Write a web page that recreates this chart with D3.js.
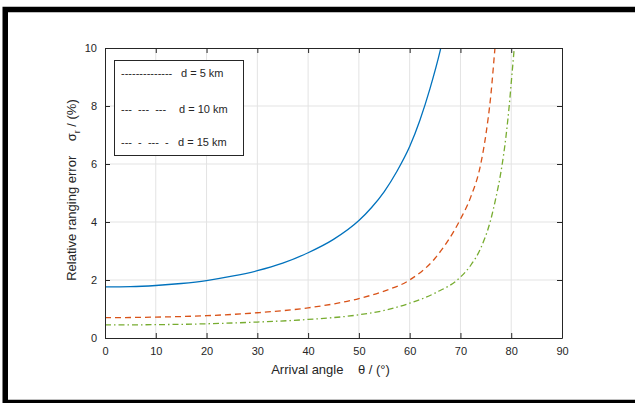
<!DOCTYPE html>
<html>
<head>
<meta charset="utf-8">
<script src="https://cdn.jsdelivr.net/npm/d3@7"></script>
<style>
  body { margin: 0; background: #fff; }
  svg text { font-family: "Liberation Sans", Arial, sans-serif; fill: #262626; }
</style>
</head>
<body>
<svg width="635" height="403"></svg>
<script>
// arrival angle (deg) and relative ranging error (%)
var thetaD5 = [0, 5, 10, 15, 20, 25, 30, 35, 40, 45, 50, 52.5, 55, 57.5, 60, 62, 64, 66, 66.4];
var errD5   = [1.76, 1.77, 1.81, 1.88, 1.98, 2.13, 2.32, 2.58, 2.94, 3.4, 4.05, 4.5, 5.05, 5.75, 6.6, 7.5, 8.6, 9.9, 10.2];

var thetaD10 = [0, 10, 20, 30, 40, 50, 55, 60, 65, 70, 72, 74, 75, 76, 76.8, 77.2];
var errD10   = [0.70, 0.72, 0.77, 0.87, 1.04, 1.36, 1.62, 2.0, 2.75, 4.1, 4.85, 6.0, 7.0, 8.4, 10.0, 10.8];

var thetaD15 = [0, 10, 20, 30, 40, 50, 55, 60, 65, 70, 72, 74, 76, 77, 78, 79, 79.6, 80.1, 80.6, 80.9];
var errD15   = [0.45, 0.46, 0.49, 0.55, 0.64, 0.80, 0.95, 1.2, 1.55, 2.1, 2.5, 3.1, 4.1, 4.85, 5.75, 7.0, 8.0, 9.0, 10.0, 10.6];

var xTicks = [0, 10, 20, 30, 40, 50, 60, 70, 80, 90];
var yTicks = [0, 2, 4, 6, 8, 10];
var legendDashes = ["--------------", "---  ---  ---", "---  -  ---  -"];
var legendLabels = ["d = 5 km", "d = 10 km", "d = 15 km"];

var svg = d3.select("svg");

// outer frame
svg.append("rect").attr("x", 5.25).attr("y", 9.5).attr("width", 700).attr("height", 393)
  .attr("fill", "none").attr("stroke", "#000").attr("stroke-width", 5.5);

var L = 105, R = 562, T = 48, B = 338;
var x = d3.scaleLinear().domain([0, 90]).range([L, R]);
var y = d3.scaleLinear().domain([0, 10]).range([B, T]);

// grid
svg.append("g").selectAll("line").data(xTicks.slice(1, -1)).enter().append("line")
  .attr("x1", function(d){ return x(d); }).attr("x2", function(d){ return x(d); })
  .attr("y1", T).attr("y2", B).attr("stroke", "#e3e3e3").attr("stroke-width", 1);
svg.append("g").selectAll("line").data(yTicks.slice(1, -1)).enter().append("line")
  .attr("y1", function(d){ return y(d); }).attr("y2", function(d){ return y(d); })
  .attr("x1", L).attr("x2", R).attr("stroke", "#e3e3e3").attr("stroke-width", 1);

// curves
svg.append("clipPath").attr("id", "clip").append("rect")
  .attr("x", L).attr("y", T).attr("width", R - L).attr("height", B - T);

var line = d3.line().x(function(d){ return x(d[0]); }).y(function(d){ return y(d[1]); })
  .curve(d3.curveMonotoneX);

var series = [
  { xs: thetaD5, ys: errD5, color: "#0072BD", dash: null },
  { xs: thetaD10, ys: errD10, color: "#D95319", dash: "6,4" },
  { xs: thetaD15, ys: errD15, color: "#77AC30", dash: "6,3,1.5,3" }
];
series.forEach(function(s){
  svg.append("path").datum(d3.zip(s.xs, s.ys))
    .attr("clip-path", "url(#clip)")
    .attr("d", line).attr("fill", "none")
    .attr("stroke", s.color).attr("stroke-width", 1.3)
    .attr("stroke-dasharray", s.dash);
});

// axes (MATLAB style: inward ticks, full box)
svg.append("g").attr("transform", "translate(0," + B + ")")
  .call(d3.axisBottom(x).tickValues(xTicks).tickSizeInner(-5).tickSizeOuter(0).tickPadding(9));
svg.append("g").attr("transform", "translate(0," + T + ")")
  .call(d3.axisTop(x).tickValues(xTicks).tickSizeInner(-5).tickSizeOuter(0).tickFormat(""));
svg.append("g").attr("transform", "translate(" + L + ",0)")
  .call(d3.axisLeft(y).tickValues(yTicks).tickSizeInner(-5).tickSizeOuter(0).tickPadding(8));
svg.append("g").attr("transform", "translate(" + R + ",0)")
  .call(d3.axisRight(y).tickValues(yTicks).tickSizeInner(-5).tickSizeOuter(0).tickFormat(""));

svg.selectAll(".domain, .tick line").attr("stroke", "#262626").attr("stroke-width", 1);
svg.selectAll(".tick text").attr("font-size", 11).attr("fill", "#262626")
  .attr("font-family", "'Liberation Sans', Arial, sans-serif");

// axis labels
svg.append("text").attr("x", (L + R) / 2 - 3).attr("y", 374).attr("text-anchor", "middle")
  .attr("font-size", 13).style("white-space", "pre")
  .text("Arrival angle    \u03b8 / (\u00b0)");

var yl = svg.append("text").attr("transform", "translate(76," + ((T + B) / 2 - 3) + ") rotate(-90)")
  .attr("text-anchor", "middle").attr("font-size", 13).style("white-space", "pre");
yl.append("tspan").text("Relative ranging error    \u03c3");
yl.append("tspan").attr("font-size", 9).attr("dy", 4).text("r");
yl.append("tspan").attr("dy", -4).text(" / (%)");

// legend box with text samples
svg.append("rect").attr("x", 114.5).attr("y", 60.5).attr("width", 129).attr("height", 95)
  .attr("fill", "#fff").attr("stroke", "#262626").attr("stroke-width", 1);
var rowsY = [77, 113, 146];
var labelX = [181, 179, 178];
legendDashes.forEach(function(s, i){
  svg.append("text").attr("x", 121).attr("y", rowsY[i]).attr("font-size", 11)
    .style("white-space", "pre").text(s);
  svg.append("text").attr("x", labelX[i]).attr("y", rowsY[i]).attr("font-size", 11)
    .text(legendLabels[i]);
});
</script>
</body>
</html>
